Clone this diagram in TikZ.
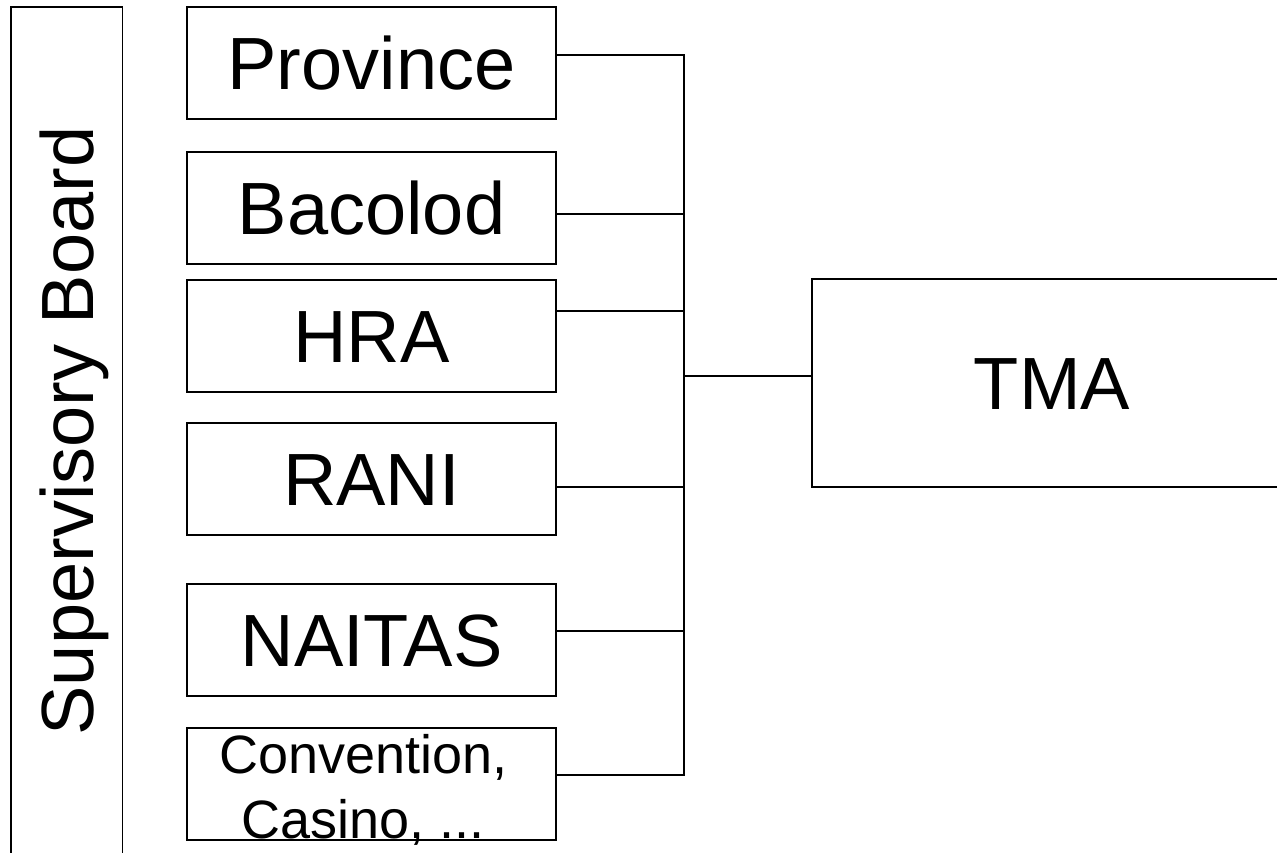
\documentclass[tikz,border=0pt]{standalone}
\usepackage{fontspec}
\setmainfont{Liberation Sans}
\usetikzlibrary{positioning}

\begin{document}
\begin{tikzpicture}[
    x=1pt, y=-1pt,
    line width=1.5pt,
    unit/.style={rectangle, draw, minimum width=369pt, minimum height=112pt,
                 inner sep=0pt, font=\fontsize{74}{88}\selectfont,
                 text height=53pt, text depth=0pt},
    board/.style={unit, rotate=90, minimum width=848pt, minimum height=111.5pt}
  ]
  \useasboundingbox (0,0) rectangle (1277,853);

  % supervisory column
  \node[board] (sup) at (66.75,431) {Supervisory Board};

  % member units
  \node[unit] (prov) at (371.5,63) {Province};
  \node[unit] (bac) [below=31.5pt of prov] {Bacolod};
  \node[unit] (hra) [below=14.5pt of bac] {HRA};
  \node[unit] (rani) [below=29.5pt of hra] {RANI};
  \node[unit] (nai) [below=47.5pt of rani] {NAITAS};
  \node[unit] (conv) [below=30.5pt of nai] {};
  \node[font=\fontsize{54}{65}\selectfont, align=center, anchor=north,
        inner sep=0pt] (convtext) at ([xshift=-8pt, yshift=-6pt]conv.north)
    {Convention,\\Casino, ...};

  \node[unit, minimum width=480pt, minimum height=208pt] (tma) at (1052,383) {TMA};

  % bus
  \coordinate (bus) at (684,376);
  \foreach \src/\dy in {prov/8, bac/-6, hra/25, rani/-8, nai/9, conv/9}
    \draw ([yshift=\dy pt]\src.east) -| (bus);
  \draw (bus) -- (tma.west |- bus);
\end{tikzpicture}
\end{document}
